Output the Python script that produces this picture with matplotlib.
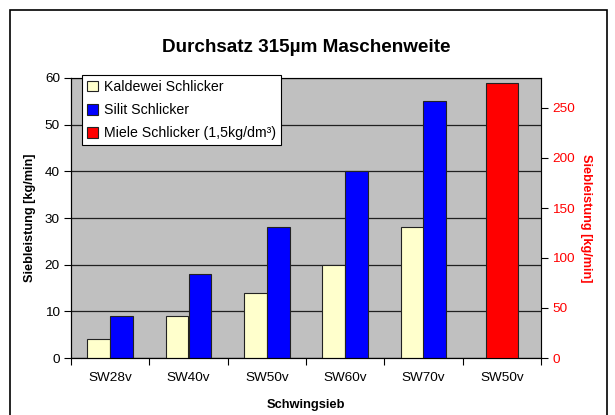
import matplotlib
matplotlib.use('Agg')
import matplotlib.pyplot as plt
from matplotlib.patches import Rectangle
import numpy as np

plt.rcParams['font.family'] = ['Liberation Sans', 'DejaVu Sans']

# data
categories = ['SW28v', 'SW40v', 'SW50v', 'SW60v', 'SW70v', 'SW50v']
kaldewei = [4, 9, 14, 20, 28]
silit = [9, 18, 28, 40, 55]
miele = [275]   # right axis, last category

W, H = 615, 415
fig = plt.figure(figsize=(W / 100, H / 100), dpi=100)

# outer chart frame (Excel style)
fig.patches.append(Rectangle((10 / W, -0.05), 597 / W, (H - 10) / H + 0.05,
                             transform=fig.transFigure, fill=False,
                             edgecolor='black', linewidth=1.2))

left, right, top, bottom = 71, 541, 78, 358
ax = fig.add_axes([left / W, (H - bottom) / H, (right - left) / W, (bottom - top) / H])
ax.set_facecolor('#C0C0C0')

x = np.arange(len(kaldewei))
bw = 0.29
b1 = ax.bar(x - bw / 2, kaldewei, bw, color='#FFFFCC', edgecolor='#222222', linewidth=0.8,
            label='Kaldewei Schlicker', zorder=3)
b2 = ax.bar(x + bw / 2, silit, bw, color='#0000FF', edgecolor='#222222', linewidth=0.8,
            label='Silit Schlicker', zorder=3)

ax.set_xlim(-0.5, len(categories) - 0.5)
ax.set_ylim(0, 60)
ax.set_yticks(range(0, 61, 10))
ax.yaxis.grid(True, color='#202020', linewidth=0.9, zorder=1)
ax.set_axisbelow(True)

ax.set_xticks(np.arange(-0.5, len(categories), 1.0))
ax.set_xticklabels([])
ax.set_xticks(np.arange(len(categories)), minor=True)
ax.set_xticklabels(categories, minor=True)
ax.tick_params(axis='x', which='minor', length=0, pad=10, labelsize=9.7)
ax.tick_params(axis='x', which='major', length=5, direction='out')
ax.tick_params(axis='y', length=5, direction='out', labelsize=9.7, pad=3)

for s in ['top', 'right']:
    ax.spines[s].set_color('#808080')
ax.spines['left'].set_color('black')
ax.spines['bottom'].set_color('black')

ax.set_ylabel('Siebleistung [kg/min]', fontsize=9.2, fontweight='bold', labelpad=6)
ax.set_xlabel('Schwingsieb', fontsize=9.3, fontweight='bold', labelpad=11)

ax2 = ax.twinx()
b3 = ax2.bar([len(categories) - 1], miele, 0.4, color='#FF0000', edgecolor='#222222',
             linewidth=0.8, label='Miele Schlicker (1,5kg/dm³)', zorder=3)
ax2.set_ylim(0, 280)
ax2.set_yticks(range(0, 251, 50))
ax2.tick_params(axis='y', length=5, direction='out', labelsize=9.7, labelcolor='red', pad=3)
ax2.spines['right'].set_color('black')
ax2.set_ylabel('Siebleistung [kg/min]', fontsize=9.2, fontweight='bold', color='red',
               rotation=-90, labelpad=12)

fig.text((left + right) / 2 / W, 1 - 47 / H, 'Durchsatz 315µm Maschenweite',
         ha='center', va='center', fontsize=13.6, fontweight='bold')

leg = ax2.legend(handles=[b1, b2, b3], loc='upper left',
                 bbox_to_anchor=(82 / W, 1 - 75 / H), bbox_transform=fig.transFigure,
                 fancybox=False, framealpha=1, edgecolor='black', fontsize=10.2,
                 handlelength=0.8, handleheight=0.8, handletextpad=0.4,
                 borderpad=0.35, labelspacing=0.65, borderaxespad=0)
leg.get_frame().set_linewidth(0.8)

fig.savefig('out.png', dpi=100)
